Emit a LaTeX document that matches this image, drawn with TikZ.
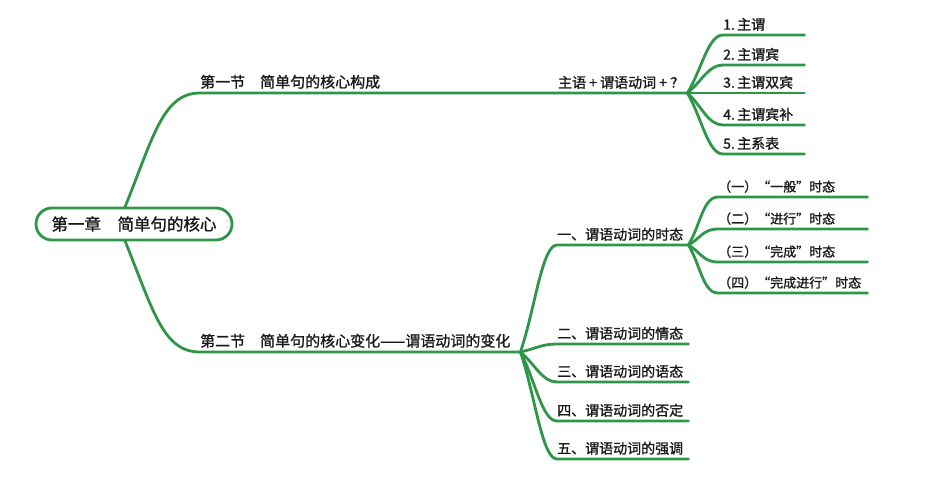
\documentclass[tikz,border=0pt]{standalone}
\usepackage{fontspec}
\setmainfont{Noto Sans CJK SC}[FakeBold=1.2]
\newfontfamily\fwq{Noto Sans CJK SC}[FakeBold=1.2,RawFeature=+fwid]
\usetikzlibrary{
    calc,
    backgrounds
}
\definecolor{mindgreen}{RGB}{46,150,72}
\definecolor{inkgray}{RGB}{25,25,25}
\newcommand{\fsz}[1]{\fontsize{#1pt}{#1pt}\selectfont}
\newcommand{\oq}{{\fwq “}}
\newcommand{\cq}{{\fwq ”}}
% connector from a fork point to the underline of a node
\newcommand{\twig}[2]{%
    \draw[branch] (#1) .. controls ($(#1)!0.4!(#2.south west)$) and ($(#2.south west)+(-15,0)$) .. (#2.south west) -- (#2.south east);}
\tikzset{
    branch/.style={
        draw=mindgreen,
        line width=2.8pt,
        line cap=round,
        line join=round
    },
    topic/.style={
        draw=mindgreen,
        line width=2.8pt,
        fill=white,
        rounded corners=16pt,
        minimum width=196pt,
        minimum height=32pt,
        inner sep=0pt,
        font=\fsz{16.5},
        text=inkgray
    },
    item/.style={
        anchor=south west,
        inner xsep=0pt,
        inner ysep=4pt,
        text width=#1,
        font=\fsz{14},
        text=inkgray
    }
}
\begin{document}
\begin{tikzpicture}[
    x=1pt,
    y=-1pt
]
    \useasboundingbox (0,0) rectangle (932,484);

    % Tema central
    \node[topic] (root) at (134,224) {第一章　简单句的核心};
    \coordinate  (hub)  at (118,224);

    % Secciones
    \node[item=487pt, font=\fsz{15}] (sec1) at (200,93)  {第一节　简单句的核心构成};
    \node[item=320pt, font=\fsz{15}] (sec2) at (200,352) {第二节　简单句的核心变化——谓语动词的变化};
    \node[anchor=south east, inner xsep=3pt, inner ysep=4pt, font=\fsz{14}, text=inkgray]
        (core) at (sec1.south east) {主语\ +\ 谓语动词\ +\ ？};

    \begin{scope}[on background layer]
        \draw[branch] (hub) .. controls +(34,-80) and +(-40,0) .. (sec1.south west) -- (sec1.south east);
        \draw[branch] (hub) .. controls +(34,80)  and +(-40,0) .. (sec2.south west) -- (sec2.south east);
    \end{scope}

    % Sección 1: estructuras básicas
    \foreach \y/\txt [count=\i] in {35/1.\,主谓, 65/2.\,主谓宾, 93/3.\,主谓双宾, 125/4.\,主谓宾补, 154/5.\,主系表}
        \node[item=81pt] (form\i) at (723,\y) {\txt};
    \foreach \i in {1,...,5}
        \twig{sec1.south east}{form\i};

    % Sección 2: cambios del verbo
    \foreach \y/\txt [count=\i] in {245/一、谓语动词的时态, 344/二、谓语动词的情态, 382/三、谓语动词的语态, 421/四、谓语动词的否定, 459/五、谓语动词的强调}
        \node[item=131pt] (verb\i) at (557,\y) {\txt};
    \foreach \i in {1,...,5}
        \twig{sec2.south east}{verb\i};

    % Tiempos verbales
    \foreach \y/\txt [count=\i] in {197/（一）\oq 一般\cq 时态, 229/（二）\oq 进行\cq 时态, 262/（三）\oq 完成\cq 时态, 293/（四）\oq 完成进行\cq 时态}
        \node[item=149pt, font=\fsz{13}] (tense\i) at (718,\y) {\txt};
    \foreach \i in {1,...,4}
        \twig{verb1.south east}{tense\i};

\end{tikzpicture}
\end{document}
